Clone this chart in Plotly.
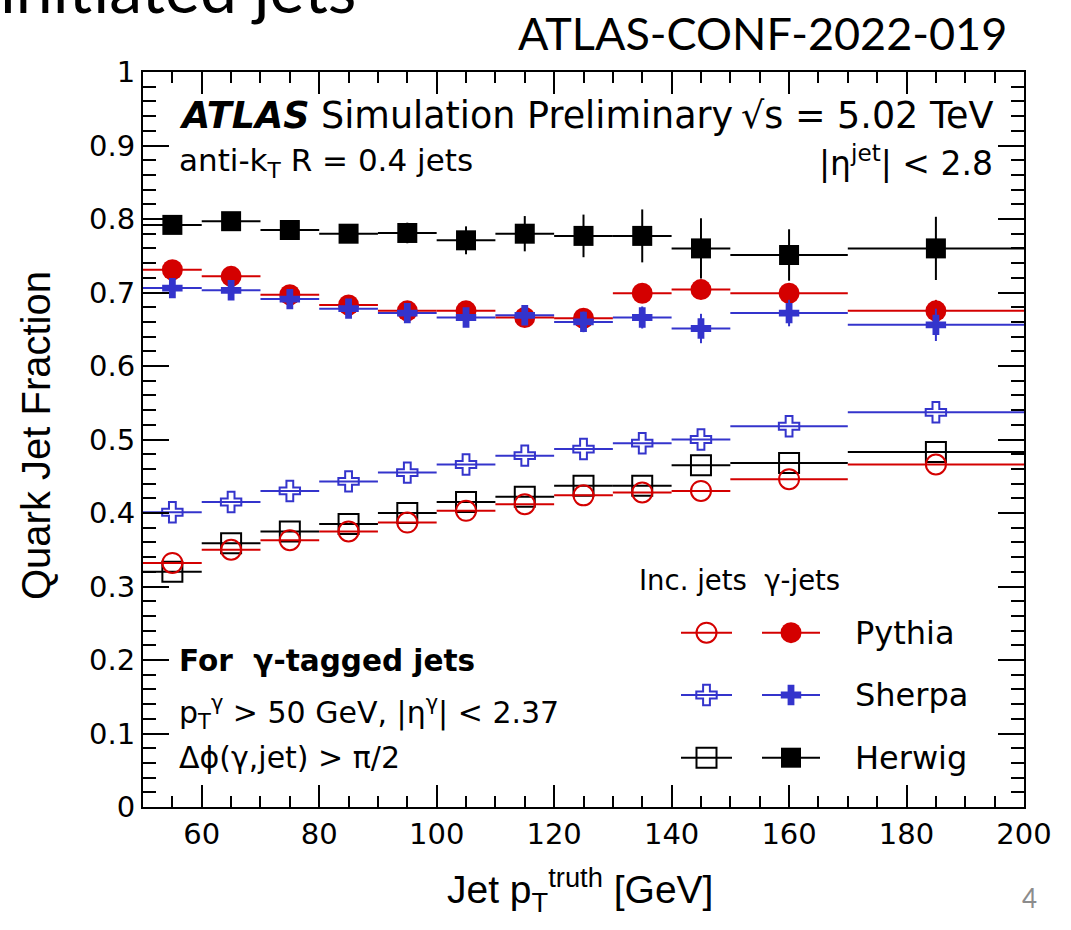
import plotly.graph_objects as go

# Jet pT bins (GeV): centres and half-widths
pt_centres = [55, 65, 75, 85, 95, 105, 115, 125, 135, 145, 160, 185]
pt_halfwidth = [5, 5, 5, 5, 5, 5, 5, 5, 5, 5, 10, 15]

# Quark-jet fraction, inclusive jets
pythia_inc = [0.332, 0.350, 0.363, 0.375, 0.387, 0.403, 0.412, 0.424, 0.428, 0.430, 0.446, 0.466]
sherpa_inc = [0.401, 0.415, 0.430, 0.443, 0.455, 0.466, 0.478, 0.487, 0.495, 0.500, 0.518, 0.537]
herwig_inc = [0.320, 0.359, 0.375, 0.385, 0.400, 0.415, 0.422, 0.437, 0.437, 0.465, 0.468, 0.483]

# Quark-jet fraction, photon-tagged jets, with statistical uncertainties
pythia_gam = [0.731, 0.722, 0.697, 0.683, 0.675, 0.675, 0.666, 0.665, 0.699, 0.704, 0.699, 0.675]
pythia_gam_err = [0.003, 0.004, 0.004, 0.005, 0.006, 0.007, 0.008, 0.009, 0.010, 0.013, 0.012, 0.015]
sherpa_gam = [0.706, 0.703, 0.691, 0.678, 0.672, 0.666, 0.669, 0.660, 0.666, 0.651, 0.672, 0.656]
sherpa_gam_err = [0.005, 0.006, 0.007, 0.008, 0.010, 0.011, 0.013, 0.014, 0.015, 0.020, 0.018, 0.022]
herwig_gam = [0.792, 0.797, 0.785, 0.780, 0.781, 0.771, 0.780, 0.777, 0.777, 0.760, 0.751, 0.760]
herwig_gam_err = [0.004, 0.005, 0.006, 0.008, 0.014, 0.019, 0.024, 0.029, 0.036, 0.041, 0.035, 0.043]

generators = ["Pythia", "Sherpa", "Herwig"]
x_ticks = [60, 80, 100, 120, 140, 160, 180, 200]

RED = "#d40000"
BLUE = "#3434cc"
BLACK = "#000000"
FONT = "DejaVu Sans"
TITLE_FONT = "Liberation Sans"

# figure geometry (px)
W, H = 1071, 930
L, R, T, B = 143, 1024, 72, 807


def px_x(x):
    return (x - L) / (R - L)


def px_y(y):
    return (B - y) / (B - T)


fig = go.Figure()


def series(y, colour, symbol, size, err=None, lw=2):
    open_marker = symbol.endswith("open")
    fig.add_trace(go.Scatter(
        x=pt_centres, y=y, mode="markers",
        marker=dict(symbol=symbol, size=size, color=colour,
                    line=dict(color=colour, width=2 if open_marker else 0)),
        error_x=dict(type="data", array=pt_halfwidth, symmetric=True,
                     color=colour, thickness=lw, width=0),
        error_y=(dict(type="data", array=err, symmetric=True, color=colour,
                      thickness=lw, width=0) if err is not None else None),
        showlegend=False, cliponaxis=True, hoverinfo="skip"))


series(herwig_inc, BLACK, "square-open", 20)
series(pythia_inc, RED, "circle-open", 20)
series(sherpa_inc, BLUE, "cross-open", 17)
series(herwig_gam, BLACK, "square", 20, herwig_gam_err)
series(pythia_gam, RED, "circle", 21, pythia_gam_err)
series(sherpa_gam, BLUE, "cross", 17, sherpa_gam_err)

# legend keys drawn on an overlay axis in frame fractions
key_style = {
    "Pythia": (RED, "circle-open", "circle", 20, 21),
    "Sherpa": (BLUE, "cross-open", "cross", 17, 17),
    "Herwig": (BLACK, "square-open", "square", 20, 20),
}
key_rows = {"Pythia": 632.7, "Sherpa": 695.0, "Herwig": 757.7}
for g in generators:
    col, s_open, s_fill, sz_o, sz_f = key_style[g]
    yk = px_y(key_rows[g])
    for xc, half, sym, sz in [(706.5, 25.5, s_open, sz_o), (791, 29, s_fill, sz_f)]:
        fig.add_trace(go.Scatter(
            x=[px_x(xc)], y=[yk], xaxis="x2", yaxis="y2", mode="markers",
            marker=dict(symbol=sym, size=sz, color=col,
                        line=dict(color=col, width=2 if sym.endswith("open") else 0)),
            error_x=dict(type="data", array=[half / (R - L)], color=col,
                         thickness=2, width=0),
            showlegend=False, hoverinfo="skip", cliponaxis=False))

ann = []


def text(x, y, s, size, anchor="left", colour="black", family=FONT):
    ann.append(dict(x=px_x(x), y=px_y(y), xref="paper", yref="paper", text=s,
                    showarrow=False, xanchor=anchor, yanchor="middle",
                    font=dict(family=family, size=size, color=colour)))


# labels inside the frame
text(177, 115, "<b><i>ATLAS</i></b> Simulation Preliminary", 36.5)
text(995, 115, "√s = 5.02 TeV", 36.5, "right")
text(177, 162, "anti-k<sub>T</sub> R = 0.4 jets", 31)
text(995, 161, "|η<sup>jet</sup>| < 2.8", 33, "right")
text(177, 661, "<b>For&nbsp;&nbsp;γ-tagged jets</b>", 29.5)
text(177, 712, "p<sub>T</sub><sup>γ</sup> > 50 GeV, |η<sup>γ</sup>| < 2.37", 30)
text(177, 757, "Δϕ(γ,jet) > π/2", 30)
text(637, 580, "Inc. jets&nbsp;&nbsp;γ-jets", 27.5)
for g in generators:
    text(853, key_rows[g], g, 32)

# axis titles
ann.append(dict(x=px_x(36), y=px_y(436), xref="paper", yref="paper",
                text="Quark Jet Fraction", textangle=-90, showarrow=False,
                xanchor="center", yanchor="middle",
                font=dict(family=TITLE_FONT, size=40, color="black")))
text(715, 890, "Jet p<sub>T</sub><sup>truth</sup> [GeV]", 39, "right", family=TITLE_FONT)

# slide header and page number
text(358, -12, "initiated jets", 66, "right", family="Lato")
text(762, 33, "ATLAS-CONF-2022-019", 45, "center", family="Lato")
text(1029, 898, "4", 26, "center", colour="#8c8c8c", family="Lato")

axis_common = dict(showline=True, linecolor="black", linewidth=2, mirror="ticks",
                   ticks="inside", tickcolor="black", tickwidth=2,
                   showgrid=False, zeroline=False,
                   tickfont=dict(family=FONT, size=29, color="black"))

fig.update_layout(
    width=W, height=H,
    margin=dict(l=L, r=W - R, t=T, b=H - B),
    paper_bgcolor="white", plot_bgcolor="white",
    xaxis=dict(range=[50, 200], tickvals=x_ticks, ticklen=22,
               minor=dict(dtick=5, tick0=50, ticklen=11, tickwidth=2,
                          tickcolor="black", ticks="inside", showgrid=False),
               **axis_common),
    yaxis=dict(range=[0, 1], dtick=0.1, tick0=0, ticklen=26,
               minor=dict(dtick=0.02, tick0=0, ticklen=13, tickwidth=2,
                          tickcolor="black", ticks="inside", showgrid=False),
               **axis_common),
    xaxis2=dict(overlaying="x", range=[0, 1], visible=False),
    yaxis2=dict(overlaying="y", range=[0, 1], visible=False),
    annotations=ann,
    showlegend=False,
)

fig.write_html("out.html")
